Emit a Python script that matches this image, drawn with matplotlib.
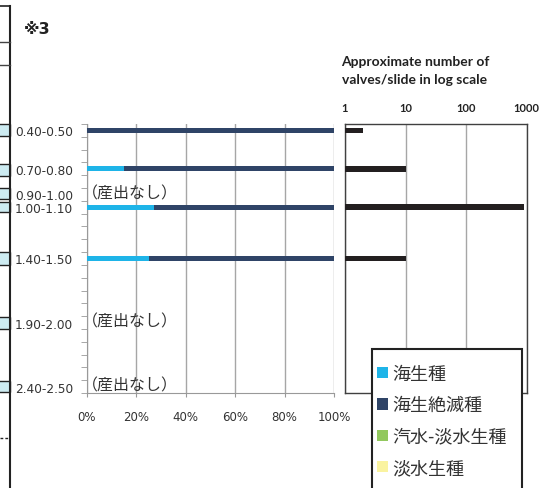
import numpy as np
import matplotlib
matplotlib.use('Agg')
import matplotlib.pyplot as plt
from matplotlib.patches import Rectangle, Patch

plt.rcParams['font.family'] = ['DejaVu Sans', 'Noto Sans CJK JP']

# depth intervals (m), top to bottom
depths = ['0.40-0.50', '0.50-0.60', '0.60-0.70', '0.70-0.80', '0.80-0.90',
          '0.90-1.00', '1.00-1.10', '1.10-1.20', '1.20-1.30', '1.30-1.40',
          '1.40-1.50', '1.50-1.60', '1.60-1.70', '1.70-1.80', '1.80-1.90',
          '1.90-2.00', '2.00-2.10', '2.10-2.20', '2.20-2.30', '2.30-2.40',
          '2.40-2.50']
labelled = ['0.40-0.50', '0.70-0.80', '0.90-1.00', '1.00-1.10',
            '1.40-1.50', '1.90-2.00', '2.40-2.50']

# samples with diatoms
sample_depths = ['0.40-0.50', '0.70-0.80', '1.00-1.10', '1.40-1.50']
marine = [0, 15, 27, 25]              # %
marine_extinct = [100, 85, 73, 75]    # %
brackish_fresh = [0, 0, 0, 0]         # %
freshwater = [0, 0, 0, 0]             # %
valves_per_slide = [2, 10, 900, 10]

no_yield = ['0.90-1.00', '1.90-2.00', '2.40-2.50']
no_yield_text = '（産出なし）'

legend_labels = ['海生種', '海生絶滅種', '汽水-淡水生種', '淡水生種']
colors = ['#1EB4E8', '#2F4467', '#92C85E', '#FAF3A0']

W, H = 553, 489
fig = plt.figure(figsize=(W / 100, H / 100), dpi=100)

# decoration from the neighbouring table (pixel coordinates)
deco = fig.add_axes([0, 0, 1, 1], zorder=0)
deco.set_xlim(0, W)
deco.set_ylim(H, 0)
deco.axis('off')
deco.plot([10, 10], [7, 489], color='#222222', lw=1.5)
deco.plot([0, 10], [7, 7], color='#222222', lw=1.2)
deco.plot([0, 10], [43, 43], color='#444444', lw=1.0)
deco.plot([0, 10], [66, 66], color='#444444', lw=1.0)
for y0, y1 in [(125, 137), (165, 177), (189, 200), (203, 213),
               (253, 266), (318, 330), (382, 393)]:
    deco.add_patch(Rectangle((-2, y0), 12, y1 - y0, facecolor='#CDEBF1',
                             edgecolor='#222222', lw=1.0))
deco.plot([0, 8], [439, 439], color='#222222', lw=1.0, ls=(0, (2, 1.5)))
deco.text(24, 29, '※3', fontsize=11.5, fontweight='bold', va='center',
          family=['DejaVu Sans', 'Noto Sans CJK JP'], color='#222222')

# left: composition (%)
ax = fig.add_axes([87 / W, 1 - 394 / H, 247 / W, 269 / H])
pos = {d: i for i, d in enumerate(depths)}
ys = np.array([pos[d] for d in sample_depths])
left = np.zeros(len(ys))
for vals, c in zip([marine, marine_extinct, brackish_fresh, freshwater], colors):
    ax.barh(ys, vals, left=left, height=0.38, color=c, zorder=3)
    left += np.array(vals)

for d in no_yield:
    ax.text(-2.0, pos[d] - 0.15, no_yield_text, fontsize=11.5, va='center',
            family=['Noto Sans CJK JP'], color='#333333')

ax.set_xlim(0, 100)
ax.set_ylim(len(depths) - 0.5, -0.5)
ax.set_xticks([0, 20, 40, 60, 80, 100])
ax.set_xticklabels(['0%', '20%', '40%', '60%', '80%', '100%'], fontsize=8.5,
                   color='#333333')
ax.set_yticks([pos[d] for d in labelled])
ax.set_yticklabels(labelled, fontsize=8.7, color='#333333')
ax.set_yticks(np.arange(-0.5, len(depths)), minor=True)
ax.tick_params(axis='y', which='major', length=0, pad=10)
ax.tick_params(axis='y', which='minor', length=4, color='#999999')
ax.tick_params(axis='x', length=3, color='#999999', pad=9)
ax.grid(axis='x', color='#A6A6A6', lw=1.0, zorder=0)
for s in ['top', 'right']:
    ax.spines[s].set_visible(False)
for s in ['left', 'bottom']:
    ax.spines[s].set_color('#999999')

# right: valves/slide (log)
ax2 = fig.add_axes([345 / W, 1 - 394 / H, 181.7 / W, 269 / H])
ax2.barh(ys, valves_per_slide, height=0.45, color='#231F20', zorder=3)
ax2.set_xscale('log')
ax2.set_xlim(1, 1000)
ax2.set_ylim(len(depths) - 0.5, -0.5)
ax2.set_yticks([])
ax2.set_yticks([], minor=True)
ax2.xaxis.tick_top()
ax2.set_xticks([1, 10, 100, 1000])
ax2.set_xticklabels(['1', '10', '100', '1000'], fontsize=8,
                    fontweight='bold', family='Lato', color='#222222')
ax2.set_xticks([], minor=True)
ax2.tick_params(axis='x', length=0, pad=8)
ax2.grid(axis='x', which='major', color='#A6A6A6', lw=1.0, zorder=0)
for s in ax2.spines.values():
    s.set_color('#404040')
    s.set_linewidth(1.0)

fig.text(415 / W, 1 - 71 / H, 'Approximate number of\nvalves/slide in log scale',
         ha='center', va='center', fontsize=10, fontweight='bold',
         family='Lato', linespacing=1.55, color='#222222')

# legend box (frame drawn separately so it can run off the bottom edge)
fig.add_artist(Rectangle((372 / W, -20 / H), 150 / W, (H - 350 + 20) / H,
                         transform=fig.transFigure, facecolor='white',
                         edgecolor='#222222', lw=1.5, zorder=9))
handles = [Patch(facecolor=c, edgecolor='none') for c in colors]
leg = fig.legend(handles, legend_labels, loc='upper left',
                 bbox_to_anchor=(377 / W, 1 - 366 / H), borderaxespad=0,
                 prop={'family': 'Noto Sans CJK JP', 'size': 13},
                 handlelength=0.6, handleheight=0.6, handletextpad=0.25,
                 labelspacing=0.74, borderpad=0, frameon=False)
for t in leg.get_texts():
    t.set_color('#333333')
leg.set_zorder(10)

fig.savefig('out.png', dpi=100)
